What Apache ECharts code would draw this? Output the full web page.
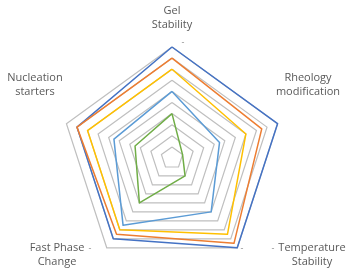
<!DOCTYPE html>
<html>
<head>
<meta charset="utf-8">
<script src="https://cdn.jsdelivr.net/npm/echarts@6/dist/echarts.min.js"></script>
<style>
  html, body { margin: 0; padding: 0; background: #fff; }
  #chart { width: 346px; height: 271px; }
</style>
</head>
<body>
<div id="chart"></div>
<script>
// axes in echarts order (top first, then counter-clockwise)
var categories = ['Gel\nStability', 'Nucleation\nstarters', 'Fast Phase\nChange', 'Temperature\nStability', 'Rheology\nmodification'];
var maxValue = 10;

var series1 = [10, 9, 9, 10, 10];
var series2 = [9, 9, 8.5, 9.5, 8.5];
var series3 = [8, 8, 8, 8.5, 7];
var series4 = [6, 5.5, 7.5, 6, 4.5];
var series5 = [4, 3.5, 5, 2, 1];

var colors = ['#4472C4', '#ED7D31', '#FFC000', '#5B9BD5', '#70AD47'];
var allSeries = [series1, series2, series3, series4, series5];

// where each axis title sits
var labelPos = [[172, 18], [35, 85], [57, 255], [312, 255], [308, 85]];
// little leftover dashes seen next to some titles
var dashPos = [[183, 42], [90, 248], [242, 248], [273, 248]];

var chart = echarts.init(document.getElementById('chart'));

var texts = categories.map(function (c, i) {
  return {
    type: 'text',
    x: labelPos[i][0],
    y: labelPos[i][1],
    style: {
      text: c,
      fill: '#595959',
      font: '11px "Open Sans", sans-serif',
      align: 'center',
      verticalAlign: 'middle',
      lineHeight: 14
    }
  };
});
dashPos.forEach(function (p) {
  texts.push({
    type: 'text',
    x: p[0],
    y: p[1],
    style: {
      text: '-',
      fill: '#8C8C8C',
      font: '9px "Open Sans", sans-serif',
      align: 'center',
      verticalAlign: 'middle'
    }
  });
});

var option = {
  animation: false,
  radar: {
    center: [172, 158],
    radius: 111,
    shape: 'polygon',
    splitNumber: 10,
    indicator: categories.map(function (c) { return { name: c, min: 0, max: maxValue }; }),
    axisName: { show: false },
    axisLine: { show: false },
    axisTick: { show: false },
    splitArea: { show: false },
    splitLine: { lineStyle: { color: '#BFBFBF', width: 1.2 } }
  },
  series: [{
    type: 'radar',
    symbol: 'none',
    data: allSeries.map(function (vals, i) {
      return {
        name: 'Series ' + (i + 1),
        value: vals,
        lineStyle: { color: colors[i], width: 1.5 }
      };
    })
  }],
  graphic: texts
};

chart.setOption(option);
</script>
</body>
</html>
